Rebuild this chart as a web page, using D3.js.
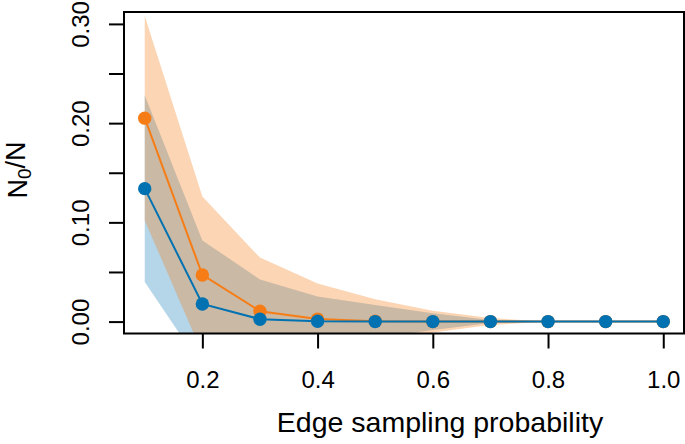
<!DOCTYPE html>
<html>
<head>
<meta charset="utf-8">
<script src="https://cdn.jsdelivr.net/npm/d3@7"></script>
<style>
  html, body { margin: 0; padding: 0; background: #fff; }
  svg { display: block; }
  text { font-family: "Liberation Sans", Arial, Helvetica, sans-serif; fill: #000; }
</style>
</head>
<body>
<svg id="chart" width="685" height="444"></svg>
<script>
// ---- data ----
const probs = [0.1, 0.2, 0.3, 0.4, 0.5, 0.6, 0.7, 0.8, 0.9, 1.0];
const meanOrange = [0.205, 0.047, 0.0105, 0.0025, 0.0004, 0, 0, 0, 0, 0];
const sdOrange   = [0.103, 0.079, 0.054, 0.036, 0.022, 0.011, 0.0035, 0, 0, 0];
const meanBlue   = [0.134, 0.0178, 0.0024, 0.0003, 0, 0, 0, 0, 0, 0];
const sdBlue     = [0.094, 0.064, 0.040, 0.025, 0.0168, 0.0084, 0.0015, 0, 0, 0];
const xTickValues = [0.2, 0.4, 0.6, 0.8, 1.0];
const yTickValues = [0, 0.05, 0.10, 0.15, 0.20, 0.25, 0.30];
const yLabelValues = [0, 0.10, 0.20, 0.30];
const xTitle = "Edge sampling probability";

// ---- layout ----
const mLeft = 124, mRight = 684, mTop = 12, mBottom = 333.5;
const colOrange = "#F67D16", colBlue = "#0072B2";

const x = d3.scaleLinear().domain([0.064, 1.036]).range([mLeft, mRight]);
const y = d3.scaleLinear().domain([-0.012, 0.312]).range([mBottom, mTop]);

const svg = d3.select("#chart");

svg.append("defs").append("clipPath").attr("id", "plotclip")
  .append("rect").attr("x", mLeft).attr("y", mTop)
  .attr("width", mRight - mLeft).attr("height", mBottom - mTop);

const plot = svg.append("g").attr("clip-path", "url(#plotclip)");

function rows(mean, sd) {
  return probs.map((p, i) => ({ p, m: mean[i], lo: mean[i] - sd[i], hi: mean[i] + sd[i] }));
}
const dBlue = rows(meanBlue, sdBlue);
const dOrange = rows(meanOrange, sdOrange);

const area = d3.area().x(d => x(d.p)).y0(d => y(d.lo)).y1(d => y(d.hi));
const line = d3.line().x(d => x(d.p)).y(d => y(d.m));

plot.append("path").datum(dBlue).attr("d", area)
  .attr("fill", colBlue).attr("fill-opacity", 0.29);
plot.append("path").datum(dOrange).attr("d", area)
  .attr("fill", colOrange).attr("fill-opacity", 0.32);

function series(data, col) {
  plot.append("path").datum(data).attr("d", line)
    .attr("fill", "none").attr("stroke", col).attr("stroke-width", 2);
  plot.selectAll(null).data(data).enter().append("circle")
    .attr("cx", d => x(d.p)).attr("cy", d => y(d.m)).attr("r", 6.7)
    .attr("fill", col);
}
series(dOrange, colOrange);
series(dBlue, colBlue);

// box
svg.append("rect").attr("x", mLeft).attr("y", mTop)
  .attr("width", mRight - mLeft).attr("height", mBottom - mTop)
  .attr("fill", "none").attr("stroke", "#000").attr("stroke-width", 2);

// x axis
const xAxis = svg.append("g").attr("transform", `translate(0,${mBottom})`)
  .call(d3.axisBottom(x).tickValues(xTickValues).tickSize(15).tickFormat(d3.format(".1f")));
xAxis.select(".domain").remove();
xAxis.selectAll(".tick line").attr("stroke", "#000").attr("stroke-width", 2);
xAxis.selectAll(".tick text").attr("y", 54).attr("dy", null)
  .style("font-size", "24px").style("font-family", "\"Liberation Sans\", Arial, sans-serif");

// y axis
const yAxis = svg.append("g").attr("transform", `translate(${mLeft},0)`)
  .call(d3.axisLeft(y).tickValues(yTickValues).tickSize(15)
    .tickFormat(d => yLabelValues.some(v => Math.abs(v - d) < 1e-9) ? d3.format(".2f")(d) : ""));
yAxis.select(".domain").remove();
yAxis.selectAll(".tick line").attr("stroke", "#000").attr("stroke-width", 2);
yAxis.selectAll(".tick text").attr("x", null).attr("dy", null)
  .attr("text-anchor", "middle")
  .attr("transform", "translate(-35.5,0) rotate(-90)")
  .style("font-size", "24px").style("font-family", "\"Liberation Sans\", Arial, sans-serif");

// titles
svg.append("text").attr("x", 440).attr("y", 432).attr("text-anchor", "middle")
  .style("font-size", "28.5px").text(xTitle);

const yt = svg.append("text").attr("text-anchor", "middle")
  .attr("transform", "translate(26.5,170) rotate(-90)")
  .style("font-size", "27px");
yt.append("tspan").text("N");
yt.append("tspan").attr("dy", "0.22em").style("font-size", "19px").text("0");
yt.append("tspan").attr("dy", "-0.22em").text("/N");
</script>
</body>
</html>
